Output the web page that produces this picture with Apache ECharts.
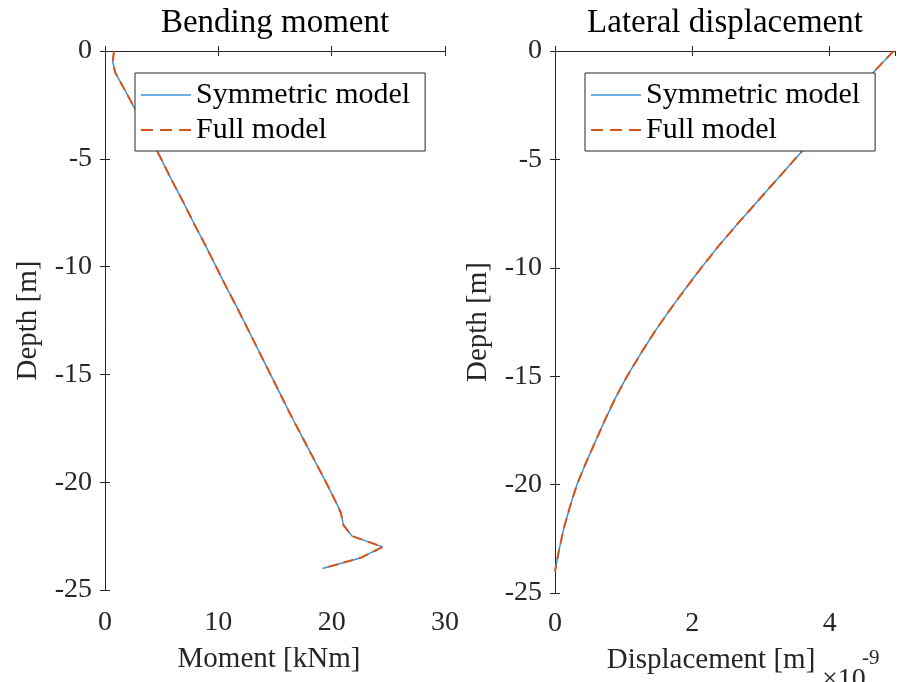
<!DOCTYPE html>
<html>
<head>
<meta charset="utf-8">
<script src="https://cdn.jsdelivr.net/npm/echarts@6/dist/echarts.min.js"></script>
<style>
  html, body { margin: 0; padding: 0; background: #fff; }
  #chart { width: 900px; height: 682px; }
</style>
</head>
<body>
<div id="chart"></div>
<script>
// Depth nodes [m] and values
const momentDepth = [0, -0.5, -1, -2, -3, -4, -5, -6, -7, -8, -9, -10, -11, -12, -13, -14, -15,
  -16, -17, -18, -19, -20, -21, -21.4, -22, -22.5, -23, -23.5, -24];
const momentValue = [0.8, 0.68, 0.9, 1.95, 2.95, 3.95, 4.95, 5.9, 6.9, 7.85, 8.85, 9.8, 10.75,
  11.75, 12.7, 13.65, 14.6, 15.55, 16.5, 17.5, 18.5, 19.5, 20.45, 20.8, 21.05, 21.8, 24.5, 22.6, 19.2];

// displacement in units of 1e-9 m
const dispDepth = [0, -1, -2, -3, -4, -5, -6, -7, -8, -9, -10, -11, -12, -13, -14, -15, -16,
  -17, -18, -19, -20, -21, -22, -23, -24];
const dispValue = [4.93, 4.63, 4.34, 4.05, 3.77, 3.49, 3.21, 2.93, 2.65, 2.38, 2.13, 1.89, 1.66,
  1.44, 1.24, 1.05, 0.88, 0.73, 0.59, 0.45, 0.32, 0.22, 0.13, 0.06, 0.0];

const seriesNames = ['Symmetric model', 'Full model'];
const titles = ['Bending moment', 'Lateral displacement'];

const FONT = '"Liberation Serif", "DejaVu Serif", serif';
const AX = '#262626';
const BLUE = '#3d95d6';
const ORANGE = '#D95319';

const pairs = (xs, ys) => xs.map((x, i) => [x, ys[i]]);

const grids = [
  { left: 105, top: 51, width: 340, height: 539 },
  { left: 555, top: 51, width: 340, height: 542 },
];

function boxAxis(gridIndex, position, extra) {
  return {
    type: 'value',
    gridIndex,
    position,
    axisLine: { show: true, lineStyle: { color: AX, width: 1 } },
    axisTick: { show: true, inside: true, length: 5, lineStyle: { color: AX } },
    axisLabel: { show: false },
    splitLine: { show: false },
    ...extra,
  };
}

const labelStyle = { color: AX, fontSize: 28, fontFamily: FONT };
const nameStyle = { color: AX, fontSize: 29, fontFamily: FONT };

const xLeft = { min: 0, max: 30, interval: 10 };
const xRight = { min: 0, max: 4.95, interval: 2 };
const yBoth = { min: -25, max: 0, interval: 5 };

const option = {
  animation: false,
  backgroundColor: '#fff',
  textStyle: { fontFamily: FONT },
  grid: grids,
  xAxis: [
    boxAxis(0, 'bottom', {
      ...xLeft,
      name: 'Moment [kNm]', nameLocation: 'middle', nameGap: 55,
      nameTextStyle: { ...nameStyle, padding: [0, 12, 0, 0] },
      axisLabel: { show: true, margin: 19, ...labelStyle },
    }),
    boxAxis(1, 'bottom', {
      ...xRight,
      name: 'Displacement [m]', nameLocation: 'middle', nameGap: 53,
      nameTextStyle: { ...nameStyle, padding: [0, 28, 0, 0] },
      axisLabel: { show: true, margin: 17, showMaxLabel: false, ...labelStyle },
    }),
    boxAxis(0, 'top', xLeft),
    boxAxis(1, 'top', xRight),
  ],
  yAxis: [
    boxAxis(0, 'left', {
      ...yBoth,
      name: 'Depth [m]', nameLocation: 'middle', nameGap: 62, nameTextStyle: nameStyle,
      axisLabel: { show: true, margin: 13, ...labelStyle },
    }),
    boxAxis(1, 'left', {
      ...yBoth,
      name: 'Depth [m]', nameLocation: 'middle', nameGap: 62, nameTextStyle: nameStyle,
      axisLabel: { show: true, margin: 13, ...labelStyle },
    }),
    boxAxis(0, 'right', yBoth),
    boxAxis(1, 'right', yBoth),
  ],
  legend: [0, 1].map((i) => ({
    data: [
      { name: seriesNames[0], lineStyle: { color: BLUE, width: 1.5, type: 'solid' } },
      { name: seriesNames[1], lineStyle: { color: ORANGE, width: 2, type: [12, 7] } },
    ],
    orient: 'vertical',
    left: [135, 585][i],
    top: 73,
    padding: [7, 15, 6, 5],
    itemGap: 5,
    itemWidth: 50,
    itemHeight: 2,
    itemStyle: { opacity: 0 },
    selectedMode: false,
    backgroundColor: '#fff',
    borderColor: AX,
    borderWidth: 1,
    textStyle: { color: '#000', fontSize: 30, fontFamily: FONT, lineHeight: 30 },
  })),
  graphic: [
    ...titles.map((t, i) => ({
      type: 'text',
      x: [275, 725][i],
      y: 23,
      style: { text: t, fill: '#000', font: '33px ' + FONT, textAlign: 'center', textVerticalAlign: 'middle' },
    })),
    {
      type: 'text', x: 822, y: 680,
      style: { text: '×10', fill: AX, font: '28px ' + FONT, textAlign: 'left', textVerticalAlign: 'middle' },
    },
    {
      type: 'text', x: 862, y: 658,
      style: { text: '-9', fill: AX, font: '21px ' + FONT, textAlign: 'left', textVerticalAlign: 'middle' },
    },
  ],
  series: [
    {
      name: seriesNames[0], type: 'line', xAxisIndex: 0, yAxisIndex: 0,
      symbol: 'none', z: 2,
      lineStyle: { color: BLUE, width: 1.5 }, itemStyle: { color: BLUE },
      data: pairs(momentValue, momentDepth),
    },
    {
      name: seriesNames[1], type: 'line', xAxisIndex: 0, yAxisIndex: 0,
      symbol: 'none', z: 3,
      lineStyle: { color: ORANGE, width: 2, type: [10, 6] }, itemStyle: { color: ORANGE },
      data: pairs(momentValue, momentDepth),
    },
    {
      name: seriesNames[0], type: 'line', xAxisIndex: 1, yAxisIndex: 1,
      symbol: 'none', z: 2,
      lineStyle: { color: BLUE, width: 1.5 }, itemStyle: { color: BLUE },
      data: pairs(dispValue, dispDepth),
    },
    {
      name: seriesNames[1], type: 'line', xAxisIndex: 1, yAxisIndex: 1,
      symbol: 'none', z: 3,
      lineStyle: { color: ORANGE, width: 2, type: [10, 6] }, itemStyle: { color: ORANGE },
      data: pairs(dispValue, dispDepth),
    },
  ],
};

const chart = echarts.init(document.getElementById('chart'), null, { renderer: 'canvas' });
chart.setOption(option);
</script>
</body>
</html>
